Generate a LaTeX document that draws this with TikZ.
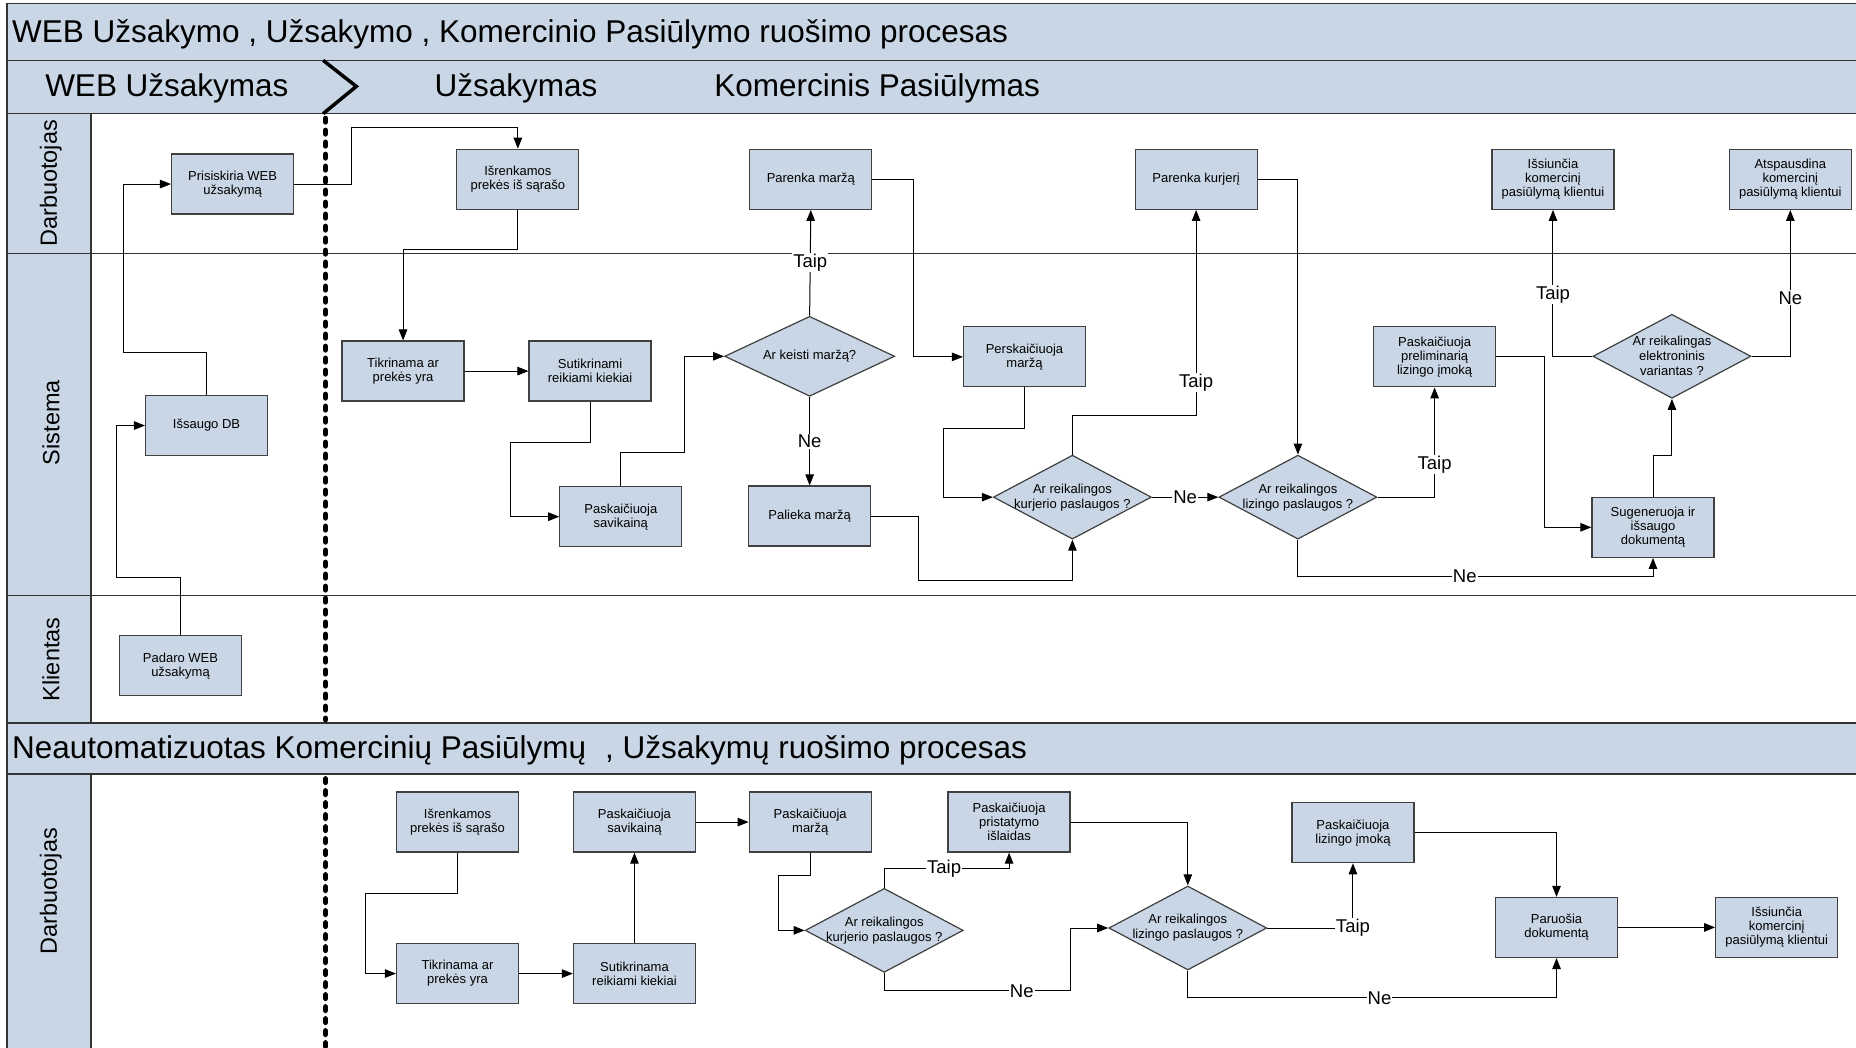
\documentclass[tikz,border=0pt]{standalone}
\usepackage{fontspec}
\setmainfont{Liberation Sans}
\usetikzlibrary{arrows.meta, positioning, calc, shapes.geometric}

\definecolor{laneblue}{RGB}{201,214,229}
\definecolor{boxline}{RGB}{64,64,64}

\begin{document}
\begin{tikzpicture}[
  x=1.1837pt, y=-1.1837pt,
  box/.style = {draw=boxline, fill=laneblue, line width=1.2pt, minimum width=122pt, minimum height=60pt, inner sep=2pt, align=center, font=\fontsize{13}{14}\selectfont},
  decision/.style = {diamond, draw=boxline, fill=laneblue, line width=1.2pt, inner sep=0pt, minimum width=158pt, minimum height=84pt},
  dtext/.style = {align=center, font=\fontsize{13}{15}\selectfont},
  arrow/.style = {line width=1pt, -{Triangle[length=11pt, width=8.5pt]}},
  lbl/.style = {fill=white, inner sep=1pt, font=\fontsize{18.5}{20}\selectfont},
  band/.style = {draw=black!80, fill=laneblue, line width=1.6pt},
  lanetitle/.style = {rotate=90, font=\fontsize{23.5}{25}\selectfont},
  bandtitle/.style = {inner sep=0pt, font=\fontsize{31.5}{34}\selectfont},
  phaseline/.style = {line width=5.5pt, dash pattern=on 3.5pt off 8.5pt, line cap=round}
]
  \useasboundingbox (0,0) rectangle (1568,885);
  \clip (0,0) rectangle (1568,885);
  \fill[white] (0,0) rectangle (1568,885);

  % Bands and lanes
  \draw[band] (6,3) rectangle (1580,51);
  \draw[band] (6,51) rectangle (1580,96);
  \draw[band] (6,96) rectangle (77,611);
  \draw[band] (6,611) rectangle (1580,654);
  \draw[band] (6,654) rectangle (77,895);
  \draw[black!80, line width=1.6pt] (6,214) -- (1580,214);
  \draw[black!80, line width=1.6pt] (6,503) -- (1580,503);

  \node[bandtitle, anchor=west] (title1) at (10,29) {WEB Užsakymo , Užsakymo , Komercinio Pasiūlymo ruošimo procesas};
  \node[bandtitle] (phWeb) at (141,75) {WEB Užsakymas};
  \node[bandtitle] (phUzs) at (436,75) {Užsakymas};
  \node[bandtitle] (phKom) at (741,75) {Komercinis Pasiūlymas};
  \node[bandtitle, anchor=west] (title2) at (10,634) {Neautomatizuotas Komercinių Pasiūlymų\hspace{0.6em}, Užsakymų ruošimo procesas};

  \node[lanetitle] (laneDarb) at (43,155) {Darbuotojas};
  \node[lanetitle] (laneSis) at (43,357) {Sistema};
  \node[lanetitle] (laneKli) at (43,557) {Klientas};
  \node[lanetitle] (laneDarb2) at (43,753) {Darbuotojas};

  % Phase separator
  \draw[line width=3.5pt] (273,51) -- (301,73) -- (273,96);
  \draw[phaseline] (275,100) -- (275,608);
  \draw[phaseline] (275,658) -- (275,885);

  % Darbuotojas
  \node[box] (prisiskiria) at (196.5,155.5) {Prisiskiria WEB\\užsakymą};
  \node[box] (isrenk1) at (437.5,151.5) {Išrenkamos\\prekės iš sąrašo};
  \node[box] (parenkaM) at (685,151.5) {Parenka maržą};
  \node[box] (parenkaK) at (1010.5,151.5) {Parenka kurjerį};
  \node[box] (issiuncia1) at (1312,151.5) {Išsiunčia\\komercinį\\pasiūlymą klientui};
  \node[box] (atspausdina) at (1512.5,151.5) {Atspausdina\\komercinį\\pasiūlymą klientui};

  % Sistema
  \node[box] (issaugo) at (174.5,359.5) {Išsaugo DB};
  \node[box] (tikrin1) at (340.5,313.5) {Tikrinama ar\\prekės yra};
  \node[box] (sutikr1) at (498.5,313.5) {Sutikrinami\\reikiami kiekiai};
  \node[box] (savik1) at (524.5,436.5) {Paskaičiuoja\\savikainą};
  \node[decision, minimum width=170pt, minimum height=80pt, label={[dtext]center:Ar keisti maržą?}] (keisti) at (684,301) {};
  \node[box] (palieka) at (684,436) {Palieka maržą};
  \node[box] (persk) at (865.5,301.5) {Perskaičiuoja\\maržą};
  \node[decision, label={[dtext]center:{Ar reikalingos\\kurjerio paslaugos ?}}] (kurj1) at (906,420) {};
  \node[decision, label={[dtext]center:{Ar reikalingos\\lizingo paslaugos ?}}] (liz1) at (1096.5,420) {};
  \node[box] (prelim) at (1212,301.5) {Paskaičiuoja\\preliminarią\\lizingo įmoką};
  \node[decision, label={[dtext]center:{Ar reikalingas\\elektroninis\\variantas ?}}] (elektr) at (1412.5,301) {};
  \node[box] (sugen) at (1396.5,445.5) {Sugeneruoja ir\\išsaugo\\dokumentą};

  % Klientas
  \node[box] (padaro) at (152.5,562.5) {Padaro WEB\\užsakymą};

  % WEB order flow
  \draw[arrow] (padaro.north) |- (98,488) |- (issaugo.west);
  \draw[arrow] (issaugo.north) |- (104,298) |- (prisiskiria.west);
  \draw[arrow] (prisiskiria.east) -| (297,108) -| (isrenk1.north);
  \draw[arrow] (isrenk1.south) |- (341,211) -| (tikrin1.north);
  \draw[arrow] (tikrin1.east) -- (sutikr1.west);
  \draw[arrow] (sutikr1.south) |- (431,374) |- (savik1.west);
  \draw[arrow] (savik1.north) |- (578,382) |- (keisti.west);
  \draw[arrow] (keisti.north) -- node[lbl]{Taip} (parenkaM.south);
  \draw[arrow] (keisti.south) -- node[lbl]{Ne} (palieka.north);
  \draw[arrow] (parenkaM.east) -| (772,301) |- (persk.west);
  \draw[arrow] (persk.south) |- (797,362) |- (kurj1.west);
  \draw[arrow] (palieka.east) -| (776,490) -| (kurj1.south);
  \draw[arrow] (kurj1.north) |- (parenkaK.south |- 0,351) -- node[lbl, pos=0.16]{Taip} (parenkaK.south);
  \draw[arrow] (kurj1.east) -- node[lbl]{Ne} (liz1.west);
  \draw[arrow] (parenkaK.east) -| (liz1.north);
  \draw[arrow] (liz1.east) -| node[lbl, pos=0.65]{Taip} (prelim.south);
  \draw[arrow] (liz1.south) -- (liz1.south |- 0,487) -- node[lbl, pos=0.47]{Ne} (sugen.south |- 0,487) -- (sugen.south);
  \draw[arrow] (prelim.east) -| (1305,446) |- (sugen.west);
  \draw[arrow] (sugen.north) |- (elektr.south |- 0,385) -- (elektr.south);
  \draw[arrow] (elektr.west) -| node[lbl, pos=0.71]{Taip} (issiuncia1.south);
  \draw[arrow] (elektr.east) -| node[lbl, pos=0.7]{Ne} (atspausdina.south);

  % Neautomatizuotas procesas
  \node[box] (isrenk2) at (386.5,694.5) {Išrenkamos\\prekės iš sąrašo};
  \node[box] (tikrin2) at (386.5,822.5) {Tikrinama ar\\prekės yra};
  \node[box] (sutikr2) at (536,822.5) {Sutikrinama\\reikiami kiekiai};
  \node[box] (savik2) at (536,694.5) {Paskaičiuoja\\savikainą};
  \node[box] (marza2) at (684.5,694.5) {Paskaičiuoja\\maržą};
  \node[decision, label={[dtext]center:{Ar reikalingos\\kurjerio paslaugos ?}}] (kurj2) at (747,786) {};
  \node[box] (pristat) at (852.5,694.5) {Paskaičiuoja\\pristatymo\\išlaidas};
  \node[decision, label={[dtext]center:{Ar reikalingos\\lizingo paslaugos ?}}] (liz2) at (1003.5,784) {};
  \node[box] (lizimok) at (1143,703.5) {Paskaičiuoja\\lizingo įmoką};
  \node[box] (paruosia) at (1315,783.5) {Paruošia\\dokumentą};
  \node[box] (issiuncia2) at (1501,783.5) {Išsiunčia\\komercinį\\pasiūlymą klientui};

  \draw[arrow] (isrenk2.south) |- (309,755) |- (tikrin2.west);
  \draw[arrow] (tikrin2.east) -- (sutikr2.west);
  \draw[arrow] (sutikr2.north) -- (savik2.south);
  \draw[arrow] (savik2.east) -- (marza2.west);
  \draw[arrow] (marza2.south) |- (658,740) |- (kurj2.west);
  \draw[arrow] (kurj2.north) |- node[lbl, pos=0.74]{Taip} (pristat.south |- 0,734) -- (pristat.south);
  \draw[arrow] (kurj2.south) |- node[lbl, pos=0.87]{Ne} (904,837) |- (liz2.west);
  \draw[arrow] (pristat.east) -| (liz2.north);
  \draw[arrow] (liz2.east) -| node[lbl, pos=0.5]{Taip} (lizimok.south);
  \draw[arrow] (liz2.south) |- node[lbl, pos=0.76]{Ne} (paruosia.south |- 0,843) -- (paruosia.south);
  \draw[arrow] (lizimok.east) -| (paruosia.north);
  \draw[arrow] (paruosia.east) -- (issiuncia2.west);

\end{tikzpicture}
\end{document}
